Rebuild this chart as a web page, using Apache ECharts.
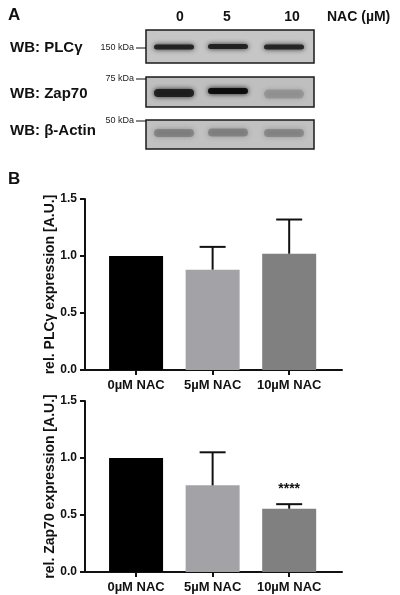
<!DOCTYPE html>
<html>
<head>
<meta charset="utf-8">
<script src="https://cdn.jsdelivr.net/npm/echarts@6/dist/echarts.min.js"></script>
<style>
html, body { margin: 0; padding: 0; background: #fff; }
#chart { width: 400px; height: 595px; }
</style>
</head>
<body>
<div id="chart"></div>
<script>
var categories = ['0µM NAC', '5µM NAC', '10µM NAC'];
var plcMean = [1.0, 0.88, 1.02];
var plcUpper = [1.0, 1.08, 1.32];
var zapMean = [1.0, 0.76, 0.555];
var zapUpper = [1.0, 1.05, 0.595];
var zapStars = ['', '', '****'];
var barColors = ['#000000', '#a3a3a7', '#808080'];
var lanes = ['0', '5', '10'];
var blotRows = ['WB: PLCγ', 'WB: Zap70', 'WB: β-Actin'];
var blotMarkers = ['150 kDa', '75 kDa', '50 kDa'];

var font = '"Liberation Sans", Arial, sans-serif';
var ink = '#111';

// western blot panel (image-like, drawn with graphic elements)
var laneX = [174, 228, 284];
var boxes = [
    { y: 30, h: 33, fill: '#c6c6c6', markY: 48 },
    { y: 77, h: 30, fill: '#bfbfbf', markY: 79 },
    { y: 120, h: 29, fill: '#c1c1c1', markY: 121 }
];
// [center y, thickness, colour, opacity]
var bands = [
    [[47, 5, '#1c1c1c', 0.9], [46.5, 5, '#1a1a1a', 0.9], [47, 5, '#1e1e1e', 0.9]],
    [[93, 8, '#1a1a1a', 0.9], [91, 6, '#0a0a0a', 0.95], [94, 9, '#7a7a7a', 0.45]],
    [[133, 8, '#5a5a5a', 0.45], [132.5, 8, '#5a5a5a', 0.45], [133, 8, '#5a5a5a', 0.4]]
];
var rowTextY = [48, 94, 131];

var graphics = [];
graphics.push({ type: 'text', x: 8, y: 15, style: { text: 'A', font: 'bold 17px ' + font, fill: ink, textVerticalAlign: 'middle' } });
graphics.push({ type: 'text', x: 8, y: 179, style: { text: 'B', font: 'bold 17px ' + font, fill: ink, textVerticalAlign: 'middle' } });
lanes.forEach(function (l, i) {
    graphics.push({ type: 'text', x: [180, 227, 292][i], y: 17, style: { text: l, font: 'bold 14px ' + font, fill: ink, textAlign: 'center', textVerticalAlign: 'middle' } });
});
graphics.push({ type: 'text', x: 327, y: 17, style: { text: 'NAC (µM)', font: 'bold 14px ' + font, fill: ink, textVerticalAlign: 'middle' } });

boxes.forEach(function (b, r) {
    graphics.push({ type: 'text', x: 10, y: rowTextY[r], style: { text: blotRows[r], font: 'bold 15px ' + font, fill: ink, textVerticalAlign: 'middle' } });
    graphics.push({ type: 'rect', shape: { x: 146, y: b.y, width: 168, height: b.h }, style: { fill: b.fill, stroke: '#1a1a1a', lineWidth: 1.5 } });
    bands[r].forEach(function (bd, i) {
        graphics.push({
            type: 'rect',
            shape: { x: laneX[i] - 20, y: bd[0] - bd[1] / 2, width: 40, height: bd[1], r: bd[1] / 2 },
            style: { fill: bd[2], opacity: bd[3], shadowBlur: 5, shadowColor: bd[2] }
        });
    });
    graphics.push({ type: 'line', shape: { x1: 136, y1: b.markY, x2: 146, y2: b.markY }, style: { stroke: ink, lineWidth: 1 } });
    graphics.push({ type: 'text', x: 134, y: b.markY, style: { text: blotMarkers[r], font: '9px ' + font, fill: '#222', textAlign: 'right', textVerticalAlign: 'middle' } });
});

function barData(vals) {
    return vals.map(function (v, i) {
        return { value: [i, v], itemStyle: { color: barColors[i] } };
    });
}
function errData(means, uppers) {
    return means.map(function (m, i) {
        return [i, uppers[i], m];
    });
}
function makeErrorItem(stars) {
    return function (params, api) {
        var x = api.value(0), top = api.value(1), mean = api.value(2);
        var star = stars ? stars[params.dataIndex] : '';
        var children = [];
        var p1 = api.coord([x, top]);
        if (top > mean) {
            var p0 = api.coord([x, mean]);
            var st = { stroke: ink, lineWidth: 2 };
            children.push({ type: 'line', shape: { x1: p0[0], y1: p0[1], x2: p1[0], y2: p1[1] }, style: st });
            children.push({ type: 'line', shape: { x1: p1[0] - 13, y1: p1[1], x2: p1[0] + 13, y2: p1[1] }, style: st });
        }
        if (star) {
            children.push({ type: 'text', x: p1[0], y: p1[1] - 15, style: { text: star, font: 'bold 14px ' + font, fill: ink, textAlign: 'center', textVerticalAlign: 'middle' } });
        }
        return { type: 'group', children: children };
    };
}

function xAxisFor(idx) {
    return {
        type: 'value', gridIndex: idx, min: -0.667, max: 2.69,
        axisLine: { onZero: false, lineStyle: { color: ink, width: 2 } },
        axisTick: { customValues: [0, 1, 2], length: 5, lineStyle: { color: ink, width: 2 } },
        axisLabel: {
            customValues: [0, 1, 2], margin: 9, color: ink, fontFamily: font, fontWeight: 'bold', fontSize: 13,
            formatter: function (v) { return categories[Math.round(v)]; }
        },
        splitLine: { show: false }
    };
}
function yAxisFor(idx, name) {
    return {
        type: 'value', gridIndex: idx, min: 0, max: 1.5, interval: 0.5,
        name: name, nameLocation: 'middle', nameGap: 28, nameMoveOverlap: false,
        nameTextStyle: { color: ink, fontFamily: font, fontWeight: 'bold', fontSize: 14 },
        axisLine: { show: true, onZero: false, lineStyle: { color: ink, width: 2 } },
        axisTick: { show: true, length: 5, lineStyle: { color: ink, width: 2 } },
        axisLabel: { margin: 8, color: ink, fontFamily: font, fontWeight: 'bold', fontSize: 12,
            formatter: function (v) { return v.toFixed(1); } },
        splitLine: { show: false }
    };
}

var chart = echarts.init(document.getElementById('chart'));
chart.setOption({
    backgroundColor: '#fff',
    animation: false,
    graphic: graphics,
    grid: [
        { left: 85, right: 58, top: 199, height: 171 },
        { left: 85, right: 58, top: 401, height: 171 }
    ],
    xAxis: [xAxisFor(0), xAxisFor(1)],
    yAxis: [yAxisFor(0, 'rel. PLCγ expression [A.U.]'), yAxisFor(1, 'rel. Zap70 expression [A.U.]')],
    series: [
        { type: 'bar', xAxisIndex: 0, yAxisIndex: 0, barWidth: 54, data: barData(plcMean) },
        { type: 'custom', xAxisIndex: 0, yAxisIndex: 0, renderItem: makeErrorItem(null), data: errData(plcMean, plcUpper), z: 5 },
        { type: 'bar', xAxisIndex: 1, yAxisIndex: 1, barWidth: 54, data: barData(zapMean) },
        { type: 'custom', xAxisIndex: 1, yAxisIndex: 1, renderItem: makeErrorItem(zapStars), data: errData(zapMean, zapUpper), z: 5 }
    ]
});
window.addEventListener('resize', chart.resize);
</script>
</body>
</html>
